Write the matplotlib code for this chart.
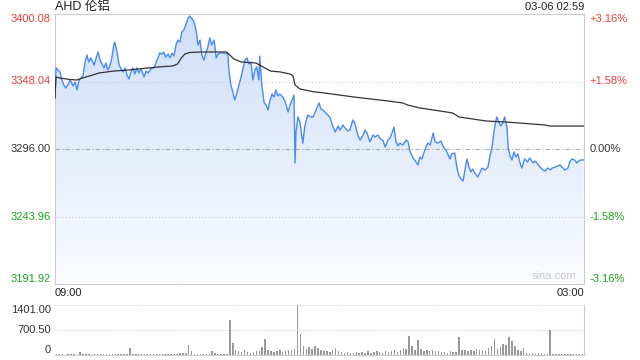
import numpy as np
import matplotlib.pyplot as plt
from matplotlib.colors import LinearSegmentedColormap

plt.rcParams['font.family'] = ['Liberation Sans', 'Noto Sans CJK SC', 'DejaVu Sans']

# axis levels (previous close 3296.00)
price_ticks = [3191.92, 3243.96, 3296.00, 3348.04, 3400.08]
price_labels = ['3191.92', '3243.96', '3296.00', '3348.04', '3400.08']
pct_labels = ['-3.16%', '-1.58%', '0.00%', '+1.58%', '+3.16%']
label_colors = ['#1aa31a', '#1aa31a', '#333333', '#f03c3c', '#f03c3c']
vol_ticks = [0, 700.50, 1401.00]
vol_labels = ['0', '700.50', '1401.00']

# minutes since 09:00 and price
price_min = [0, 2, 6, 10, 14, 18, 22, 27, 31, 37, 41, 45, 49, 53, 57, 61, 65, 69, 73, 80,
             84, 88, 92, 96, 100, 104, 108, 112, 116, 120, 122, 127, 131, 135, 139, 143, 147, 151, 155, 159,
             163, 167, 171, 176, 182, 186, 190, 194, 198, 202, 206, 210, 214, 218, 222, 226, 231, 235, 239, 243,
             247, 251, 255, 259, 263, 267, 271, 275, 280, 284, 288, 292, 296, 300, 304, 308, 312, 316, 320, 325,
             329, 333, 337, 345, 353, 355, 359, 363, 367, 372, 376, 380, 384, 388, 392, 396, 400, 404, 408, 412,
             416, 418, 422, 427, 431, 435, 439, 443, 447, 451, 455, 459, 465, 470, 476, 480, 484, 488, 490, 492,
             496, 500, 506, 510, 516, 521, 527, 533, 539, 543, 547, 553, 561, 567, 572, 578, 582, 588, 592, 598,
             602, 608, 612, 619, 623, 629, 633, 637, 643, 649, 653, 659, 663, 670, 674, 680, 684, 688, 692, 696,
             700, 704, 710, 717, 721, 725, 731, 737, 741, 745, 749, 755, 761, 766, 772, 776, 782, 788, 792, 796,
             800, 806, 810, 816, 821, 825, 829, 833, 837, 841, 845, 849, 853, 857, 863, 868, 872, 878, 884, 888,
             892, 896, 900, 902, 906, 910, 914, 918, 923, 925, 929, 933, 937, 941, 945, 949, 953, 959, 965, 969,
             976, 980, 984, 990, 996, 1000, 1006, 1011, 1015, 1021, 1027, 1031, 1037, 1041, 1047, 1051, 1055, 1061, 1065, 1072,
             1079]
price = [3335.3, 3358.5, 3356.9, 3355.4, 3349.2, 3345.3, 3343.0, 3346.1, 3349.2, 3344.6, 3347.7, 3341.5, 3349.2, 3350.7, 3352.3, 3362.3, 3368.5, 3363.1, 3366.2, 3360.8,
         3366.2, 3370.8, 3364.6, 3361.5, 3358.5, 3362.3, 3356.9, 3360.0, 3366.2, 3376.2, 3378.5, 3370.0, 3360.8, 3357.7, 3355.4, 3358.5, 3353.0, 3350.0, 3355.4, 3358.5,
         3353.8, 3358.5, 3354.6, 3357.7, 3351.5, 3356.1, 3354.6, 3356.9, 3358.5, 3358.5, 3362.3, 3366.2, 3370.0, 3369.2, 3370.8, 3366.9, 3369.2, 3366.2, 3370.0, 3367.7,
         3376.2, 3380.0, 3378.5, 3386.2, 3387.7, 3391.6, 3396.2, 3398.5, 3396.2, 3393.9, 3387.7, 3376.2, 3380.0, 3368.5, 3364.6, 3370.0, 3374.6, 3381.6, 3376.2, 3380.0,
         3366.2, 3369.2, 3370.0, 3370.0, 3369.2, 3356.9, 3345.3, 3340.0, 3333.8, 3340.0, 3346.1, 3351.5, 3358.5, 3364.6, 3366.2, 3361.5, 3363.1, 3349.2, 3356.9, 3359.2,
         3349.2, 3367.7, 3346.1, 3331.5, 3329.9, 3326.1, 3333.8, 3338.4, 3336.1, 3341.5, 3336.9, 3338.4, 3336.1, 3332.2, 3324.5, 3329.9, 3333.8, 3337.6, 3285.2, 3309.1,
         3320.7, 3316.8, 3300.5, 3313.7, 3322.2, 3320.7, 3320.7, 3326.1, 3331.5, 3326.9, 3326.1, 3323.7, 3320.7, 3313.7, 3309.1, 3313.7, 3310.6, 3314.5, 3312.2, 3309.9,
         3310.6, 3318.4, 3316.0, 3306.0, 3302.9, 3306.8, 3310.6, 3308.3, 3301.4, 3306.8, 3305.2, 3306.8, 3304.5, 3302.2, 3297.5, 3302.9, 3304.5, 3308.3, 3312.9, 3302.2,
         3298.3, 3300.6, 3299.1, 3302.9, 3301.4, 3293.7, 3289.1, 3286.0, 3283.7, 3289.8, 3288.3, 3295.2, 3300.6, 3299.1, 3308.3, 3301.4, 3300.6, 3302.2, 3298.3, 3296.0,
         3293.7, 3288.3, 3292.2, 3292.9, 3280.6, 3275.2, 3272.9, 3271.3, 3279.8, 3288.3, 3282.1, 3278.3, 3280.6, 3277.5, 3274.4, 3278.3, 3281.3, 3279.8, 3282.1, 3290.6,
         3296.8, 3309.1, 3317.6, 3320.7, 3316.8, 3313.7, 3316.0, 3320.7, 3312.2, 3297.5, 3290.6, 3287.5, 3293.7, 3289.8, 3292.2, 3286.0, 3281.3, 3288.3, 3286.0, 3289.1,
         3285.2, 3286.7, 3285.2, 3282.1, 3279.8, 3279.0, 3281.3, 3279.8, 3281.3, 3282.1, 3282.9, 3283.7, 3281.3, 3279.8, 3281.3, 3286.0, 3288.3, 3287.5, 3285.2, 3287.5,
         3287.5]

# average price line
avg_min = [0, 2, 10, 30, 45, 50, 70, 90, 120, 150, 180, 210, 240, 250, 258, 265, 275, 300, 350, 355,
           365, 380, 410, 425, 440, 460, 480, 486, 490, 500, 530, 550, 610, 680, 710, 720, 745, 800, 812, 825,
           880, 920, 950, 1000, 1010, 1079]
avg = [3335.3, 3351.5, 3350.7, 3349.6, 3349.2, 3350.0, 3352.3, 3354.6, 3356.1, 3356.9, 3358.1, 3359.2, 3360.0, 3361.5, 3366.2, 3369.2, 3370.4, 3370.8, 3370.8, 3369.2,
       3365.4, 3363.1, 3362.3, 3359.2, 3356.1, 3355.4, 3353.8, 3352.3, 3345.3, 3342.3, 3340.0, 3339.2, 3336.1, 3333.0, 3331.5, 3329.9, 3327.6, 3324.5, 3323.7, 3320.7,
       3317.6, 3316.8, 3316.0, 3314.5, 3313.7, 3313.7]

# volume, one bar per 6 minutes
volume = [30, 15, 20, 10, 25, 15, 20, 12, 80, 20,
          15, 25, 10, 20, 30, 15, 25, 20, 35, 15,
          20, 25, 30, 40, 35, 200, 30, 20, 25, 15,
          20, 30, 25, 20, 15, 25, 30, 20, 25, 35,
          30, 40, 45, 60, 50, 290, 110, 40, 35, 30,
          25, 40, 30, 100, 45, 30, 20, 25, 30, 970,
          340, 150, 120, 90, 140, 80, 60, 90, 110, 100,
          230, 460, 150, 110, 90, 120, 140, 80, 100, 150,
          130, 180, 1401, 600, 250, 180, 220, 160, 240, 200,
          150, 120, 100, 90, 140, 200, 110, 80, 60, 90,
          70, 50, 80, 60, 90, 70, 100, 60, 80, 110,
          90, 70, 120, 80, 100, 130, 90, 150, 200, 180,
          540, 250, 150, 430, 160, 120, 140, 110, 150, 100,
          120, 90, 80, 60, 100, 80, 90, 510, 150, 130,
          120, 140, 100, 160, 130, 150, 110, 200, 250, 460,
          180, 220, 300, 280, 510, 380, 260, 150, 100, 200,
          60, 40, 50, 30, 45, 35, 40, 30, 690, 40,
          20, 25, 15, 20, 30, 15, 20, 25, 20, 30, 15]
vol_min = np.arange(len(volume)) * 6

grid_c = '#cccccc'
fig = plt.figure(figsize=(6.4, 3.6), dpi=100)

# main price panel
ax = fig.add_axes([55/640, 1-284/360, 529/640, 270/360])
lo, hi = price_ticks[0], price_ticks[-1]
poly = ax.fill_between(price_min, price, lo, color='none', lw=0)
grad = np.linspace(0, 1, 256).reshape(-1, 1)
cmap = LinearSegmentedColormap.from_list('fill', ['#fafcff', '#cfdef7'])
im = ax.imshow(grad, aspect='auto', cmap=cmap, origin='lower',
               extent=[0, 1080, lo, hi], zorder=1)
im.set_clip_path(poly.get_paths()[0], transform=ax.transData)
ax.plot(price_min, price, color='#4a8af0', lw=1.0, zorder=3)
ax.plot(avg_min, avg, color='#333333', lw=0.9, zorder=3)
ax.set_xlim(0, 1080)
ax.set_ylim(lo, hi)

for v in [price_ticks[1], price_ticks[3]]:
    ax.axhline(v, color=grid_c, lw=0.8, ls=(0, (1, 2)), zorder=2)
ax.axhline(price_ticks[2], color='#aaaaaa', lw=0.8, ls=(0, (4, 2, 1, 2)), zorder=2)

for s in ax.spines.values():
    s.set_color(grid_c)
ax.set_xticks([])
ax.set_yticks([])

tr = ax.get_yaxis_transform()
vas = ['bottom', 'center', 'center', 'center', 'top']
for v, lab, pl, c, va in zip(price_ticks, price_labels, pct_labels, label_colors, vas):
    ax.text(-0.008, v, lab, transform=tr, ha='right', va=va, color=c, fontsize=8)
    ax.text(1.011, v, pl, transform=tr, ha='left', va=va, color=c, fontsize=8)

ax.text(0.985, 0.01, 'sina.com', transform=ax.transAxes, ha='right', va='bottom',
        color='#cccccc', fontsize=8)

# volume panel
ax2 = fig.add_axes([55/640, 1-355/360, 529/640, 50/360])
ax2.bar(vol_min + 3, volume, width=3, color='#999999', lw=0)
ax2.set_xlim(0, 1080)
ax2.set_ylim(0, vol_ticks[-1])
for v in vol_ticks[1:]:
    ax2.axhline(v, color=grid_c, lw=0.8, ls=(0, (1, 1.5)), zorder=0)
ax2.spines['left'].set_visible(False)
ax2.spines['top'].set_visible(False)
ax2.spines['right'].set_color(grid_c)
ax2.spines['bottom'].set_color(grid_c)
ax2.set_xticks([])
ax2.set_yticks([])
tr2 = ax2.get_yaxis_transform()
for v, lab, va in zip(vol_ticks, vol_labels, ['bottom', 'center', 'top']):
    ax2.text(-0.008, v, lab, transform=tr2, ha='right', va=va, color='#333333', fontsize=8)

# header and time labels
fig.text(55/640, 1-7/360, 'AHD 伦铝', ha='left', va='center', fontsize=9, color='#222222')
fig.text(584/640, 1-7/360, '03-06 02:59', ha='right', va='center', fontsize=8, color='#222222')
fig.text(55/640, 1-293/360, '09:00', ha='left', va='center', fontsize=8, color='#222222')
fig.text(584/640, 1-293/360, '03:00', ha='right', va='center', fontsize=8, color='#222222')

fig.savefig('out.png', dpi=100)
